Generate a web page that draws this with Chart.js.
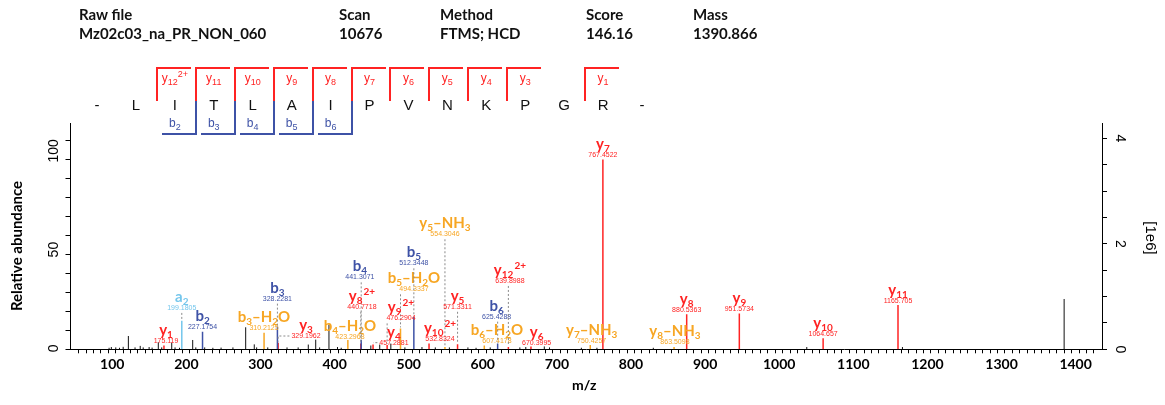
<!DOCTYPE html>
<html><head><meta charset="utf-8">
<script src="https://cdn.jsdelivr.net/npm/chart.js@4.4.1/dist/chart.umd.min.js"></script>
<style>
html,body{margin:0;padding:0;background:#fff;}
#wrap{position:relative;width:1165px;height:405px;overflow:hidden;background:#fff;}
#c{position:absolute;left:0;top:0;}
.hd{position:absolute;font-family:Lato,'Open Sans',sans-serif;font-weight:700;font-size:15px;line-height:16px;color:#111;white-space:nowrap;}
.res{position:absolute;font-family:'Liberation Sans',Arial,sans-serif;font-size:15px;line-height:16px;color:#111;transform:translate(-50%,-50%);}
.ion{position:absolute;font-family:'Liberation Sans',Arial,sans-serif;font-size:12px;line-height:12px;transform:translate(-50%,-50%);white-space:nowrap;}
.ion sub,.ion sup{font-size:9px;line-height:0;}
.ln{position:absolute;}
</style></head>
<body><div id="wrap"><canvas id="c" width="1165" height="405"></canvas></div>
<script>
// ---------- header ----------
const headerLabels = ['Raw file','Scan','Method','Score','Mass'];
const headerValues = ['Mz02c03_na_PR_NON_060','10676','FTMS; HCD','146.16','1390.866'];

// ---------- peptide sequence / coverage ----------
const residues = ['-','L','I','T','L','A','I','P','V','N','K','P','G','R','-'];
const yCovered = [12,11,10,9,8,7,6,5,4,3,1];
const yCoveredCharge = ['2+','','','','','','','','','',''];
const bCovered = [2,3,4,5,6];

// ---------- spectrum: unassigned peaks ----------
const otherMz  = [101.1,104.1,110.1,115.1,120.1,127.1,136.1,143.1,147.1,155.1,159.1,167.5,172.1,185.6,190.1,196.1,213.9,218.1,230.1,241.1,252.2,268.2,285.4,297.0,300.2,315.2,341.2,356.2,369.9,379.9,385.2,397.8,409.3,414.3,454.3,466.3,481.3,500.3,523.3,541.3,560.3,585.3,596.3,615.4,655.4,663.4,688.4,695.4,738.4,759.4,835.5,1042.6,1171.7,1389.9];
const otherInt = [0.8,1.2,1.0,0.8,1.3,7.0,1.0,1.8,1.0,1.2,0.9,3.7,1.0,3.5,1.0,0.8,4.9,1.0,1.0,0.8,0.9,1.0,11.6,2.6,1.0,1.0,1.0,1.0,2.5,5.1,1.0,13.0,1.2,0.8,2.0,2.5,3.0,1.0,1.2,1.0,1.0,1.0,0.8,1.0,1.0,1.2,1.5,1.0,0.8,0.8,0.8,1.2,1.2,26.5];

// ---------- y ions ----------
const yMz   = [175.119,329.1962,440.7718,457.2881,476.2904,532.8324,571.3311,639.8988,670.3995,767.4522,880.5363,951.5734,1064.657,1165.705];
const yInt  = [2.0,3.5,3.0,2.5,2.2,3.0,2.6,1.2,1.5,100,18.4,18.9,5.8,23.3];
const yName = ['y_1','y_3','y_8^2+','y_4','y_9^2+','y_10^2+','y_5','y_12^2+','y_6','y_7','y_8','y_9','y_10','y_11'];
const yLabelMz  = [177.9,366.8,442.3,485.5,495.0,547.6,571.3,642.0,678.0,767.45,880.54,951.57,1064.66,1165.7];
const yLabelPct = [4.4,7.0,22.4,3.5,16.3,5.3,22.4,36.0,3.2,102.4,20.7,21.1,8.1,25.6];

// ---------- b ions ----------
const bMz   = [227.1754,328.2281,441.3071,512.3448,625.4288];
const bInt  = [9.3,12.0,5.0,17.2,3.0];
const bName = ['b_2','b_3','b_4','b_5','b_6'];
const bLabelMz  = [227.2,328.2,439.5,512.3,624.1];
const bLabelPct = [11.7,26.7,37.9,45.3,17.2];

// ---------- a ions ----------
const aMz   = [199.1805];
const aInt  = [15.0];
const aName = ['a_2'];
const aLabelMz  = [199.2];
const aLabelPct = [21.8];

// ---------- neutral losses ----------
const lossMz   = [310.2125,423.2968,494.3337,554.3046,607.4178,750.4257,863.5098];
const lossInt  = [8.7,4.9,11.0,1.2,2.0,2.2,1.2];
const lossName = ['b_3–H_2O','b_4–H_2O','b_5–H_2O','y_5–NH_3','b_6–H_2O','y_7–NH_3','y_8–NH_3'];
const lossLabelMz  = [310.1,426.1,512.5,554.3,624.5,752.3,864.7];
const lossLabelPct = [11.2,6.7,31.6,60.6,4.5,4.5,3.8];

// ---------- axes ----------
const xMin = 49, xMax = 1441, xStep = 10, xLabelStep = 100;
const relMax = 119.2, relStep = 10, relLabels = [0,50,100];
const absMax = 4.29, absStep = 0.5, absLabels = [0,2,4];

const RED = '#ff2323', BLUE = '#3e52a6', ORANGE = '#f7a623', CYAN = '#74c6ec';

// ---------- build header & sequence (HTML text) ----------
const wrap = document.getElementById('wrap');
function el(cls, html, css){ const d=document.createElement('div'); d.className=cls; d.innerHTML=html; Object.assign(d.style, css); wrap.appendChild(d); return d; }
const headerX = [79,339,440,586,693];
headerLabels.forEach((t,i)=>{ el('hd', t, {left:headerX[i]+'px', top:'6px'}); el('hd', headerValues[i], {left:headerX[i]+'px', top:'25px'}); });

const SEQ_X0 = 97, SEQ_DX = 38.93, RES_Y = 105;
residues.forEach((r,i)=> el('res', r, {left:(SEQ_X0+i*SEQ_DX)+'px', top:RES_Y+'px'}));
function line(x,y,w,h,c){ el('ln','',{left:x+'px',top:y+'px',width:w+'px',height:h+'px',background:c}); }
yCovered.forEach((n,k)=>{
  const p = 13 - n;
  const bx = SEQ_X0 + (p+0.5)*SEQ_DX + 1.5;
  line(bx-1, 67, 2, 101-67, RED);
  line(bx-1, 67, 35, 2, RED);
  const lab = 'y<sub>'+n+'</sub>' + (yCoveredCharge[k] ? '<sup>'+yCoveredCharge[k]+'</sup>' : '');
  el('ion', lab, {left:(SEQ_X0+(p+1)*SEQ_DX)+'px', top:'78px', color:RED});
});
bCovered.forEach(n=>{
  const bx = SEQ_X0 + (n+0.5)*SEQ_DX + 1.5;
  line(bx-1, 101, 2, 34, BLUE);
  line(bx-34, 133, 35, 2, BLUE);
  el('ion', 'b<sub>'+n+'</sub>', {left:(SEQ_X0+n*SEQ_DX)+'px', top:'123px', color:BLUE});
});

// ---------- datasets ----------
function sticks(mzs, ints){ const out=[]; mzs.forEach((m,i)=>{ out.push({x:m,y:0},{x:m,y:ints[i]},{x:m,y:null}); }); return out; }
function ds(mzs, ints, color, w){ return {data:sticks(mzs,ints), borderColor:color, backgroundColor:color, borderWidth:w, showLine:true, pointRadius:0, spanGaps:false, tension:0}; }

const groups = [
  {mz:otherMz, int:otherInt, color:'#111', w:1},
  {mz:lossMz, int:lossInt, color:ORANGE, w:1.5, name:lossName, lmz:lossLabelMz, lpct:lossLabelPct},
  {mz:aMz, int:aInt, color:CYAN, w:1.5, name:aName, lmz:aLabelMz, lpct:aLabelPct},
  {mz:bMz, int:bInt, color:BLUE, w:1.5, name:bName, lmz:bLabelMz, lpct:bLabelPct},
  {mz:yMz, int:yInt, color:RED, w:1.5, name:yName, lmz:yLabelMz, lpct:yLabelPct},
];

// ---------- ion name renderer ----------
const NAME_FONT = 'bold 15px Lato, "Open Sans", sans-serif';
const SUB_FONT = 'bold 10px Lato, "Open Sans", sans-serif';
const VAL_FONT = '7px "Liberation Sans", Arial, sans-serif';
function parseName(spec){
  const parts=[]; let i=0;
  while(i<spec.length){
    const ch=spec[i];
    if(ch==='_'||ch==='^'){ let j=i+1, s=''; while(j<spec.length && /[0-9+]/.test(spec[j])){ s+=spec[j]; j++; } parts.push({t:s,k:ch==='_'?'sub':'sup'}); i=j; }
    else { let s=''; while(i<spec.length && spec[i]!=='_' && spec[i]!=='^'){ s+=spec[i]; i++; } parts.push({t:s,k:'n'}); }
  }
  return parts;
}
function nameWidth(ctx, parts){ let w=0; parts.forEach(p=>{ ctx.font = p.k==='n'?NAME_FONT:SUB_FONT; w += ctx.measureText(p.t).width + (p.k==='sup'?1:0); }); return w; }
function drawName(ctx, parts, cx, cy, color){
  const w = nameWidth(ctx, parts); let x = cx - w/2;
  ctx.fillStyle = color; ctx.textAlign='left'; ctx.textBaseline='alphabetic';
  const base = cy + 4;
  parts.forEach(p=>{
    ctx.font = p.k==='n'?NAME_FONT:SUB_FONT;
    const dy = p.k==='sub'? 3 : (p.k==='sup'? -6 : 0);
    if(p.k==='sup') x += 1;
    ctx.fillText(p.t, x, base+dy);
    x += ctx.measureText(p.t).width;
  });
  return w;
}

const annotPlugin = {
  id:'annot',
  afterDatasetsDraw(chart){
    const {ctx} = chart; const xs = chart.scales.x, ys = chart.scales.y;
    ctx.save();
    groups.forEach(g=>{
      if(!g.name) return;
      g.mz.forEach((mz,i)=>{
        const px = xs.getPixelForValue(mz), pt = ys.getPixelForValue(g.int[i]);
        const lx = xs.getPixelForValue(g.lmz[i]), vy = ys.getPixelForValue(g.lpct[i]);
        const parts = parseName(g.name[i]);
        const nw = nameWidth(ctx, parts);
        ctx.font = VAL_FONT; const vw = ctx.measureText(String(mz)).width;
        const half = Math.max(nw, vw)/2;
        ctx.save(); ctx.setLineDash([2,2]); ctx.strokeStyle='#8a8a8a'; ctx.lineWidth=1; ctx.beginPath();
        if(Math.abs(lx-px) <= half){
          if(pt - (vy+5) > 3){ ctx.moveTo(px, vy+5); ctx.lineTo(px, pt-1); }
        } else {
          const ex = lx > px ? lx-half-2 : lx+half+2;
          ctx.moveTo(ex, vy); ctx.lineTo(px, vy);
          if(pt > vy+2) ctx.lineTo(px, pt-1);
        }
        ctx.stroke(); ctx.restore();
        ctx.font = VAL_FONT; ctx.fillStyle = g.color; ctx.textAlign='center'; ctx.textBaseline='middle';
        ctx.fillText(String(mz), lx, vy);
        drawName(ctx, parts, lx, vy-10, g.color);
      });
    });
    ctx.restore();
  }
};

const axisTextPlugin = {
  id:'axisText',
  afterDraw(chart){
    const {ctx} = chart; const ys = chart.scales.y, y2 = chart.scales.y2, ca = chart.chartArea;
    ctx.save(); ctx.fillStyle='#000';
    ctx.font = '14px "Liberation Sans", Arial, sans-serif';
    relLabels.forEach(v=>{
      const py = ys.getPixelForValue(v);
      ctx.save(); ctx.translate(54, py); ctx.rotate(-Math.PI/2); ctx.textAlign='center'; ctx.textBaseline='middle';
      const w = ctx.measureText(String(v)).width;
      ctx.fillText(String(v), w/2-3, 0); ctx.restore();
    });
    absLabels.forEach(v=>{
      const py = y2.getPixelForValue(v);
      ctx.save(); ctx.translate(1120, py); ctx.rotate(Math.PI/2); ctx.textAlign='center'; ctx.textBaseline='middle';
      ctx.fillText(String(v), 0, 0); ctx.restore();
    });
    ctx.font = 'bold 15px Lato, "Open Sans", sans-serif';
    ctx.save(); ctx.translate(17, 246); ctx.rotate(-Math.PI/2); ctx.textAlign='center'; ctx.textBaseline='middle'; ctx.fillText('Relative abundance',0,0); ctx.restore();
    ctx.font = '15px "Liberation Sans", Arial, sans-serif';
    ctx.save(); ctx.translate(1150, 238); ctx.rotate(Math.PI/2); ctx.textAlign='center'; ctx.textBaseline='middle'; ctx.fillText('[1e6]',0,0); ctx.restore();
    ctx.font = 'bold 14px Lato, "Open Sans", sans-serif'; ctx.textAlign='center'; ctx.textBaseline='middle';
    ctx.fillText('m/z', (ca.left+ca.right)/2 - 2, 385);
    ctx.restore();
  }
};

function keepSteps(step){ return function(scale){ scale.ticks = scale.ticks.filter(t => Math.abs(t.value/step - Math.round(t.value/step)) < 1e-6); }; }

new Chart(document.getElementById('c'), {
  type:'scatter',
  data:{ datasets: groups.map(g=>ds(g.mz, g.int, g.color, g.w)) },
  options:{
    responsive:false, animation:false, devicePixelRatio:1,
    layout:{padding:{top:123,left:0,right:0,bottom:0}},
    plugins:{legend:{display:false}, tooltip:{enabled:false}},
    scales:{
      x:{ type:'linear', min:xMin, max:xMax, offset:false,
          grid:{display:true, drawOnChartArea:false, drawTicks:true, tickLength:4, color:'#000', tickColor:'#000', tickWidth:1},
          border:{display:true, color:'#000', width:1},
          ticks:{stepSize:xStep, autoSkip:false, maxRotation:0, minRotation:0, padding:3, labelOffset:4, color:'#000',
                 font:{family:'Lato, "Open Sans", sans-serif', weight:'bold', size:14},
                 callback:(v)=> (Math.round(v) % xLabelStep === 0 ? String(v) : '')},
          afterBuildTicks: keepSteps(xStep),
          afterFit(s){ s.height = 405 - 349.3; } },
      y:{ type:'linear', position:'left', min:0, max:relMax,
          grid:{display:true, drawOnChartArea:false, drawTicks:true, tickLength:5, color:'#000', tickColor:'#000'},
          border:{display:true, color:'#000', width:1},
          ticks:{display:false, stepSize:relStep},
          afterBuildTicks: keepSteps(relStep),
          afterFit(s){ s.width = 70.5; } },
      y2:{ type:'linear', position:'right', min:0, max:absMax,
          grid:{display:true, drawOnChartArea:false, drawTicks:true, tickLength:5, color:'#000', tickColor:'#000'},
          border:{display:true, color:'#000', width:1},
          ticks:{display:false, stepSize:absStep},
          afterBuildTicks: keepSteps(absStep),
          afterFit(s){ s.width = 1165 - 1102; } }
    }
  },
  plugins:[annotPlugin, axisTextPlugin]
});
</script>
</body></html>
